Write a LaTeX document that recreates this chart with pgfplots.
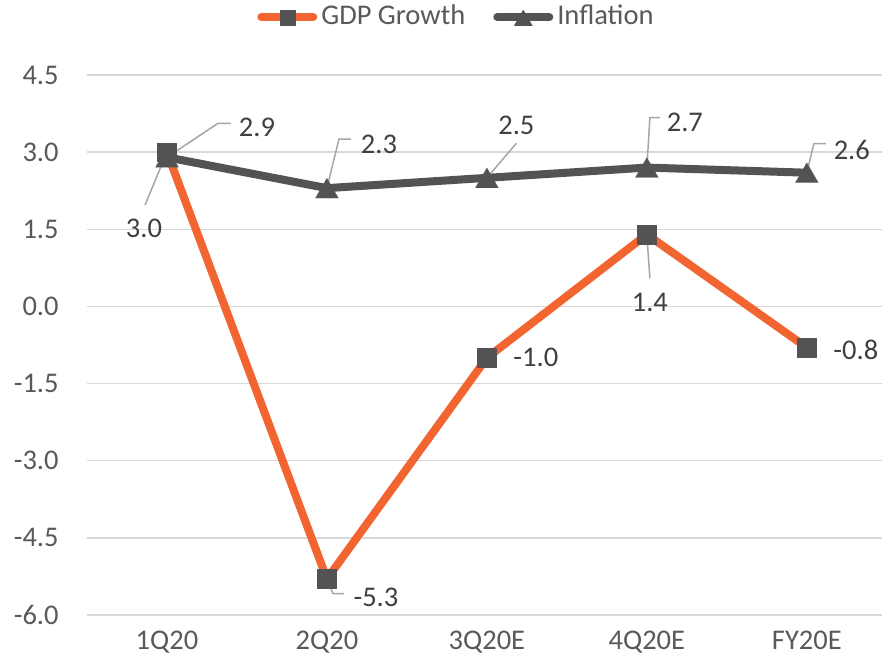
\documentclass[border=0pt]{standalone}
\usepackage{pgfplots}
\pgfplotsset{compat=1.18}
\usepackage{pgfplotstable}
\usepackage{fontspec}
\setmainfont{Carlito}
\definecolor{gdporange}{HTML}{F26531}
\definecolor{infgray}{HTML}{535353}
\definecolor{gridgray}{HTML}{D9D9D9}
\definecolor{ticktext}{HTML}{595959}
\definecolor{labeltext}{HTML}{404040}
\definecolor{leadergray}{HTML}{A6A6A6}

\pgfplotstableread{
x y dx dy lab
0 3.0 -11.5 -38 3.0
1 -5.3 24.5 -9 -5.3
2 -1.0 24.5 0 -1.0
3 1.4 1.5 -34 1.4
4 -0.8 24.5 -1 -0.8
}\gdptable
\pgfplotstableread{
x y dx dy lab
0 2.9 45 16.5 2.9
1 2.3 26 23.5 2.3
2 2.5 14.75 27.75 2.5
3 2.7 19 24.5 2.7
4 2.6 22.5 13 2.6
}\inftable

\begin{document}
\fontsize{14.25}{17}\selectfont
\begin{tikzpicture}
\begin{axis}[
  scale only axis, width=397.5pt, height=270pt,
  xmin=-0.5, xmax=4.47, ymin=-6, ymax=4.5,
  xtick={0,1,2,3,4}, xticklabels={1Q20,2Q20,3Q20E,4Q20E,FY20E},
  ytick={-6,-4.5,-3,-1.5,0,1.5,3,4.5},
  /pgf/number format/assume math mode=true,
  yticklabel={\pgfmathprintnumber[fixed,fixed zerofill,precision=1]{\tick}},
  ymajorgrids, grid style={gridgray, line width=0.75pt},
  axis line style={draw=none},
  major tick length=0pt,
  tick label style={text=ticktext},
  yticklabel style={xshift=-9.25pt},
  xticklabel style={yshift=-3.25pt},
  clip=false,
  legend style={at={(0.466,1.107)}, anchor=center, draw=none, fill=none,
    legend columns=-1, text=ticktext,
    /tikz/every even column/.append style={column sep=12pt}},
  legend image code/.code={
    \draw[#1, line cap=round, mark=none] (2pt,0pt) -- (28pt,0pt);
    \draw[#1, every mark/.append style={scale=0.8}] plot coordinates {(15pt,0pt)};
  },
]
\addplot[gdporange, line width=4pt, line join=round,
  mark=square*, mark size=4.7pt, mark options={solid, fill=infgray, draw=infgray, line width=0.1pt},
  point meta=explicit symbolic,
  visualization depends on={\thisrow{dx}\as\ldx},
  visualization depends on={\thisrow{dy}\as\ldy},
  nodes near coords,
  every node near coord/.append style={anchor=center, xshift=\ldx pt, yshift=\ldy pt, text=labeltext}
] table[x=x, y=y, meta=lab] {\gdptable};
\addlegendentry{GDP Growth}
\addplot[infgray, line width=4pt, line join=round,
  mark=triangle*, mark size=6.6pt, mark options={solid, fill=infgray, draw=infgray, line width=0.1pt, yshift=-1.66pt},
  point meta=explicit symbolic,
  visualization depends on={\thisrow{dx}\as\ldx},
  visualization depends on={\thisrow{dy}\as\ldy},
  nodes near coords,
  every node near coord/.append style={anchor=center, xshift=\ldx pt, yshift=\ldy pt, text=labeltext}
] table[x=x, y=y, meta=lab] {\inftable};
\addlegendentry{Inflation}
% leader lines
\addplot[leadergray, line width=0.75pt, mark=none, forget plot] coordinates {(0,3.0) (-0.1375,1.97)};
\addplot[leadergray, line width=0.75pt, mark=none, forget plot] coordinates {(1,-5.3) (1.0375,-5.584) (1.106,-5.584)};
\addplot[leadergray, line width=0.75pt, mark=none, forget plot] coordinates {(3,1.4) (3.019,0.544)};
\addplot[leadergray, line width=0.75pt, mark=none, forget plot] coordinates {(0,2.9) (0.319,3.561) (0.4,3.561)};
\addplot[leadergray, line width=0.75pt, mark=none, forget plot] coordinates {(1,2.3) (1.075,3.253) (1.15,3.253)};
\addplot[leadergray, line width=0.75pt, mark=none, forget plot] coordinates {(2,2.5) (2.184,3.171)};
\addplot[leadergray, line width=0.75pt, mark=none, forget plot] coordinates {(3,2.7) (3.019,3.672) (3.081,3.672)};
\addplot[leadergray, line width=0.75pt, mark=none, forget plot] coordinates {(4,2.6) (4.044,3.164) (4.119,3.164)};
\end{axis}
\pgfresetboundingbox
\path[use as bounding box] ([shift={(-43.5pt,-26.5pt)}]current axis.south west) rectangle ([shift={(0pt,37.5pt)}]current axis.north east);
\end{tikzpicture}
\end{document}
